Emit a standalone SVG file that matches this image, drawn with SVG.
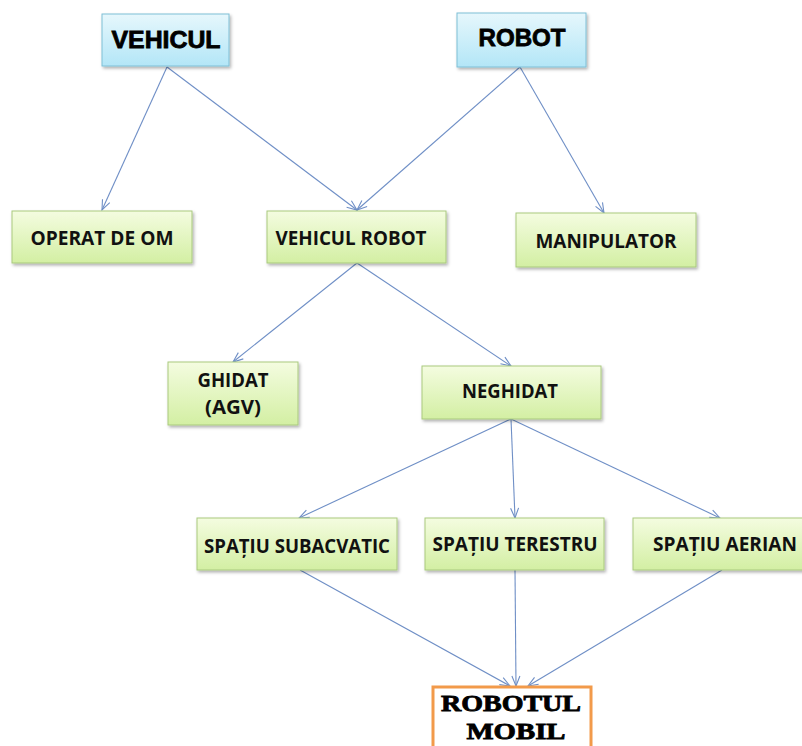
<svg xmlns="http://www.w3.org/2000/svg" width="802" height="746" viewBox="0 0 802 746">
<style>
.g{fill:url(#gg);stroke:#A9C97F;stroke-width:1;filter:url(#sh)}
.b{fill:url(#bg);stroke:#7FBFD6;stroke-width:1;filter:url(#sh)}
.t{font-family:"Open Sans","Liberation Sans",sans-serif;font-weight:700;font-size:19.5px;fill:#111;text-anchor:middle}
.h{font-family:"Liberation Sans",Arial,sans-serif;font-weight:900;font-size:24px;fill:#000;stroke:#000;stroke-width:0.8;text-anchor:middle}
.s{font-family:"Liberation Serif","Times New Roman",serif;font-weight:700;font-size:23px;fill:#000;stroke:#000;stroke-width:0.8;text-anchor:middle}
.c line{stroke:#6F8FC6;stroke-width:1.1;marker-end:url(#ar)}
</style>
<defs>
<linearGradient id="gg" x1="0" y1="0" x2="0" y2="1"><stop offset="0" stop-color="#F4FCE0"/><stop offset="1" stop-color="#D3EFA3"/></linearGradient>
<linearGradient id="bg" x1="0" y1="0" x2="0" y2="1"><stop offset="0" stop-color="#E6F7FC"/><stop offset="1" stop-color="#B3E6F7"/></linearGradient>
<filter id="sh" x="-10%" y="-10%" width="125%" height="135%"><feDropShadow dx="1.5" dy="2" stdDeviation="1.5" flood-color="#000" flood-opacity="0.3"/></filter>
<marker id="ar" viewBox="0 0 12 10" refX="11" refY="5" markerWidth="12" markerHeight="10" markerUnits="userSpaceOnUse" orient="auto"><path d="M1,1 L11,5 L1,9" fill="none" stroke="#6F8FC6" stroke-width="1.1"/></marker>
</defs>
<rect width="802" height="746" fill="#fff"/>
<g class="c" id="connectors">
<line x1="167" y1="67" x2="102" y2="210"/>
<line x1="167" y1="67" x2="357" y2="210"/>
<line x1="520" y1="67" x2="357" y2="210"/>
<line x1="520" y1="67" x2="604" y2="213"/>
<line x1="357" y1="263" x2="233" y2="362"/>
<line x1="357" y1="263" x2="511" y2="366"/>
<line x1="511" y1="419" x2="299" y2="518"/>
<line x1="511" y1="419" x2="515" y2="518"/>
<line x1="511" y1="419" x2="720" y2="518"/>
<line x1="300" y1="570" x2="510" y2="686"/>
<line x1="515" y1="570" x2="516" y2="686"/>
<line x1="722" y1="570" x2="528" y2="686"/>
</g>
<g id="vehicul"><rect class="b" x="102" y="14" width="127" height="52"/><text class="h" x="166" y="48" textLength="109" lengthAdjust="spacingAndGlyphs">VEHICUL</text></g>
<g id="robot"><rect class="b" x="457" y="13" width="129" height="54"/><text class="h" x="522" y="46" textLength="87" lengthAdjust="spacingAndGlyphs">ROBOT</text></g>
<g id="operat"><rect class="g" x="12" y="211" width="180" height="52"/><text class="t" x="102" y="245" textLength="143" lengthAdjust="spacingAndGlyphs">OPERAT DE OM</text></g>
<g id="vehiculrobot"><rect class="g" x="267" y="211" width="179" height="52"/><text class="t" x="351" y="245" textLength="151" lengthAdjust="spacingAndGlyphs">VEHICUL ROBOT</text></g>
<g id="manipulator"><rect class="g" x="516" y="213" width="180" height="54"/><text class="t" x="606" y="248" textLength="141" lengthAdjust="spacingAndGlyphs">MANIPULATOR</text></g>
<g id="ghidat"><rect class="g" x="168" y="362" width="130" height="63"/><text class="t" x="233" y="387" textLength="71" lengthAdjust="spacingAndGlyphs">GHIDAT</text><text class="t" x="233" y="414" textLength="56" lengthAdjust="spacingAndGlyphs">(AGV)</text></g>
<g id="neghidat"><rect class="g" x="422" y="366" width="179" height="53"/><text class="t" x="510" y="398" textLength="96" lengthAdjust="spacingAndGlyphs">NEGHIDAT</text></g>
<g id="subacvatic"><rect class="g" x="197" y="518" width="200" height="52"/><text class="t" x="297" y="553" textLength="186" lengthAdjust="spacingAndGlyphs">SPAȚIU SUBACVATIC</text></g>
<g id="terestru"><rect class="g" x="425" y="518" width="179" height="52"/><text class="t" x="515" y="551" textLength="165" lengthAdjust="spacingAndGlyphs">SPAȚIU TERESTRU</text></g>
<g id="aerian"><rect class="g" x="633" y="518" width="175" height="52"/><text class="t" x="725" y="551" textLength="144" lengthAdjust="spacingAndGlyphs">SPAȚIU AERIAN</text></g>
<g id="robotulmobil"><rect x="433" y="687" width="158" height="70" fill="#fff" stroke="#F29A4A" stroke-width="3"/><text class="s" x="511" y="711" textLength="140" lengthAdjust="spacingAndGlyphs">ROBOTUL</text><text class="s" x="516" y="739" textLength="99" lengthAdjust="spacingAndGlyphs">MOBIL</text></g>
</svg>
